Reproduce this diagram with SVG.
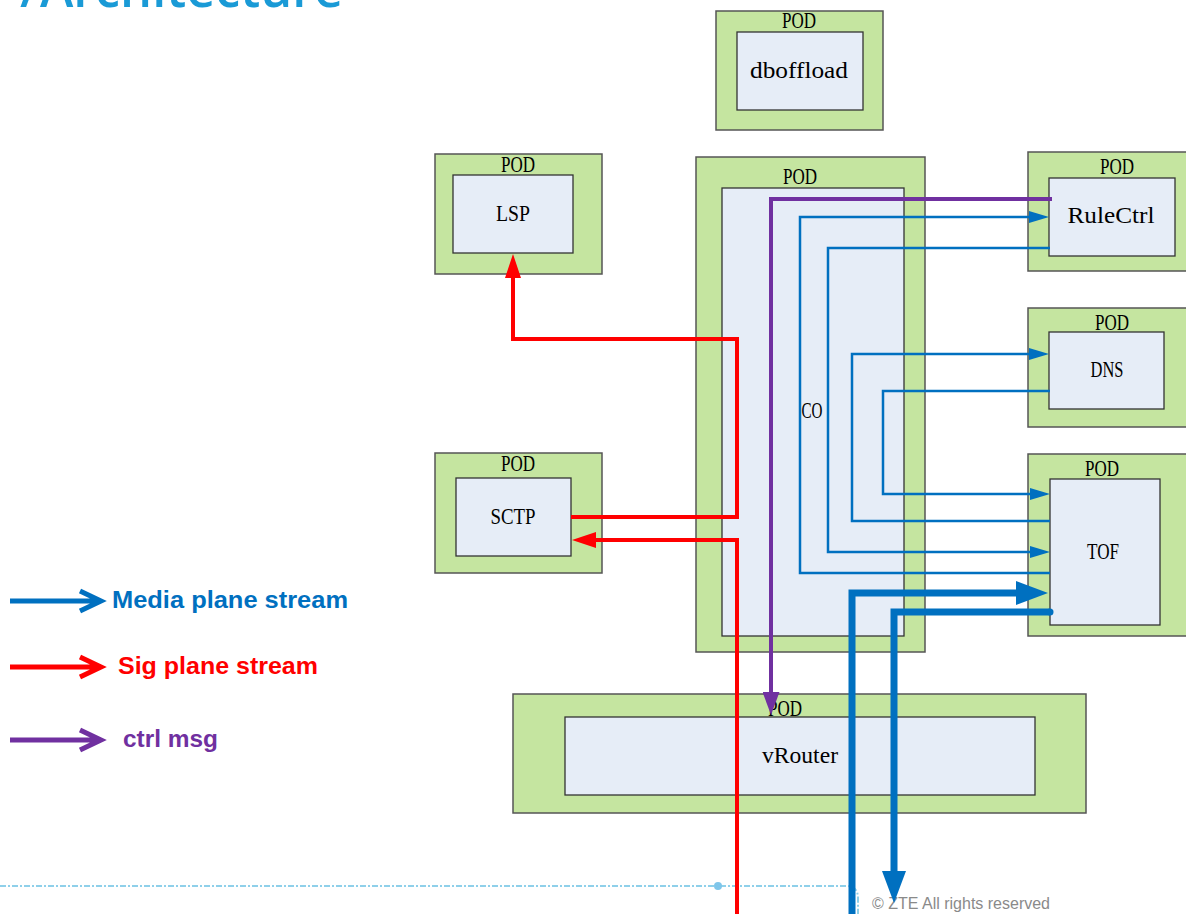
<svg xmlns="http://www.w3.org/2000/svg" width="1186" height="914" viewBox="0 0 1186 914">
<style>
.pod{fill:#c5e5a0;stroke:#555;stroke-width:1.5}
.inner{fill:#e6edf7;stroke:#333;stroke-width:1.3}
.pt,.lbl{font-family:"Liberation Serif",serif;font-size:23px;fill:#000;text-anchor:middle}
.thin{fill:none;stroke:#0070c0;stroke-width:2.5}
.thick{fill:none;stroke:#0070c0;stroke-width:7}
.red{fill:none;stroke:#ff0000;stroke-width:4}
.pur{fill:none;stroke:#7030a0;stroke-width:4}
.leg{font-family:"Liberation Sans",Arial,sans-serif;font-weight:bold;font-size:24px}
.title{font-family:"Open Sans","Noto Sans",sans-serif;font-size:52px;font-weight:600;fill:#1a9ad6}
</style>
<defs>
<marker id="mBlue" markerUnits="userSpaceOnUse" viewBox="0 0 20 12" refX="0" refY="6" markerWidth="20" markerHeight="12" orient="auto"><path d="M0,0 L20,6 L0,12 z" fill="#0070c0"/></marker>
<marker id="mBig" markerUnits="userSpaceOnUse" viewBox="0 0 32 24" refX="0" refY="12" markerWidth="32" markerHeight="24" orient="auto"><path d="M0,0 L32,12 L0,24 z" fill="#0070c0"/></marker>
<marker id="mRed" markerUnits="userSpaceOnUse" viewBox="0 0 24 16" refX="0" refY="8" markerWidth="24" markerHeight="16" orient="auto"><path d="M0,0 L24,8 L0,16 z" fill="#ff0000"/></marker>
<marker id="mPur" markerUnits="userSpaceOnUse" viewBox="0 0 23 17" refX="0" refY="8.5" markerWidth="23" markerHeight="17" orient="auto"><path d="M0,0 L23,8.5 L0,17 z" fill="#7030a0"/></marker>
</defs>
<rect width="1186" height="914" fill="#fff"/>
<g id="title">
<text class="title" x="20" y="7">/</text>
<text class="title" x="40" y="7" textLength="303" lengthAdjust="spacingAndGlyphs">Architecture</text>
</g>

<g id="legend">
<g id="legend-media"><path d="M10,601 H100 M80,591 L101,601 L80,611" fill="none" stroke="#0070c0" stroke-width="5"/><text class="leg" x="112" y="608" fill="#0070c0" textLength="236" lengthAdjust="spacingAndGlyphs">Media plane stream</text></g>
<g id="legend-sig"><path d="M10,667 H100 M80,657 L101,667 L80,677" fill="none" stroke="#ff0000" stroke-width="5"/><text class="leg" x="118" y="674" fill="#ff0000" textLength="200" lengthAdjust="spacingAndGlyphs">Sig plane stream</text></g>
<g id="legend-ctrl"><path d="M10,740 H100 M80,730 L101,740 L80,750" fill="none" stroke="#7030a0" stroke-width="5"/><text class="leg" x="123" y="747" fill="#7030a0" textLength="95" lengthAdjust="spacingAndGlyphs">ctrl msg</text></g>
</g>

<g id="footer">
<path d="M0,886 H846 Q858,886 858,898 V914" fill="none" stroke="#8fd0ea" stroke-width="2" stroke-dasharray="6 2 2 2"/>
<circle cx="718" cy="886" r="4" fill="#7fc6ea"/>
<text x="872" y="909" font-family="'Liberation Sans',Arial,sans-serif" font-size="16" fill="#8a8a8a" textLength="178" lengthAdjust="spacingAndGlyphs">© ZTE All rights reserved</text>
</g>

<g id="node-dboffload">
<rect class="pod" x="716" y="11" width="167" height="119"/>
<rect class="inner" x="737" y="32" width="126" height="78"/>
<text class="pt" x="799" y="28" textLength="34" lengthAdjust="spacingAndGlyphs">POD</text>
<text class="lbl" x="799" y="78" textLength="98" lengthAdjust="spacingAndGlyphs">dboffload</text>
</g>
<g id="node-lsp">
<rect class="pod" x="435" y="154" width="167" height="120"/>
<rect class="inner" x="453" y="175" width="120" height="78"/>
<text class="pt" x="518" y="172" textLength="34" lengthAdjust="spacingAndGlyphs">POD</text>
<text class="lbl" x="513" y="221" textLength="34" lengthAdjust="spacingAndGlyphs">LSP</text>
</g>
<g id="node-sctp">
<rect class="pod" x="435" y="453" width="167" height="120"/>
<rect class="inner" x="456" y="478" width="115" height="78"/>
<text class="pt" x="518" y="471" textLength="34" lengthAdjust="spacingAndGlyphs">POD</text>
<text class="lbl" x="513" y="524" textLength="45" lengthAdjust="spacingAndGlyphs">SCTP</text>
</g>
<g id="node-co">
<rect class="pod" x="696" y="157" width="229" height="495"/>
<rect class="inner" x="722" y="188" width="182" height="448"/>
<text class="pt" x="800" y="184" textLength="34" lengthAdjust="spacingAndGlyphs">POD</text>
<text class="lbl" x="812" y="418" textLength="21" lengthAdjust="spacingAndGlyphs">CO</text>
</g>
<g id="node-rulectrl">
<rect class="pod" x="1028" y="152" width="165" height="119"/>
<rect class="inner" x="1049" y="178" width="126" height="78"/>
<text class="pt" x="1117" y="174" textLength="34" lengthAdjust="spacingAndGlyphs">POD</text>
<text class="lbl" x="1111" y="223" textLength="87" lengthAdjust="spacingAndGlyphs">RuleCtrl</text>
</g>
<g id="node-dns">
<rect class="pod" x="1028" y="308" width="165" height="119"/>
<rect class="inner" x="1049" y="332" width="115" height="77"/>
<text class="pt" x="1112" y="330" textLength="34" lengthAdjust="spacingAndGlyphs">POD</text>
<text class="lbl" x="1107" y="377" textLength="33" lengthAdjust="spacingAndGlyphs">DNS</text>
</g>
<g id="node-tof">
<rect class="pod" x="1028" y="454" width="165" height="182"/>
<rect class="inner" x="1050" y="479" width="110" height="146"/>
<text class="pt" x="1102" y="476" textLength="34" lengthAdjust="spacingAndGlyphs">POD</text>
<text class="lbl" x="1103" y="559" textLength="32" lengthAdjust="spacingAndGlyphs">TOF</text>
</g>
<g id="node-vrouter">
<rect class="pod" x="513" y="694" width="573" height="119"/>
<rect class="inner" x="565" y="717" width="470" height="78"/>
<text class="pt" x="785" y="716" textLength="34" lengthAdjust="spacingAndGlyphs">POD</text>
<text class="lbl" x="800" y="763" textLength="76" lengthAdjust="spacingAndGlyphs">vRouter</text>
</g>

<g id="connectors">
<path class="thin" d="M1050,573 H800 V217 H1029" marker-end="url(#mBlue)"/>
<path class="thin" d="M1050,248 H828 V552 H1030" marker-end="url(#mBlue)"/>
<path class="thin" d="M1050,521 H852 V354 H1029" marker-end="url(#mBlue)"/>
<path class="thin" d="M1050,391 H883 V494 H1030" marker-end="url(#mBlue)"/>
<path class="thick" d="M852,914 V593 H1016" marker-end="url(#mBig)"/>
<path class="thick" d="M1050,612 H894 V871" marker-end="url(#mBig)"/>
<circle cx="1050" cy="612" r="3.5" fill="#0070c0"/>
<path class="red" d="M571,517 H737 V339 H513 V278" marker-end="url(#mRed)"/>
<path class="red" d="M737,914 V540 H596" marker-end="url(#mRed)"/>
<path class="pur" d="M1052,199 H771 V692" marker-end="url(#mPur)"/>
</g>
</svg>
